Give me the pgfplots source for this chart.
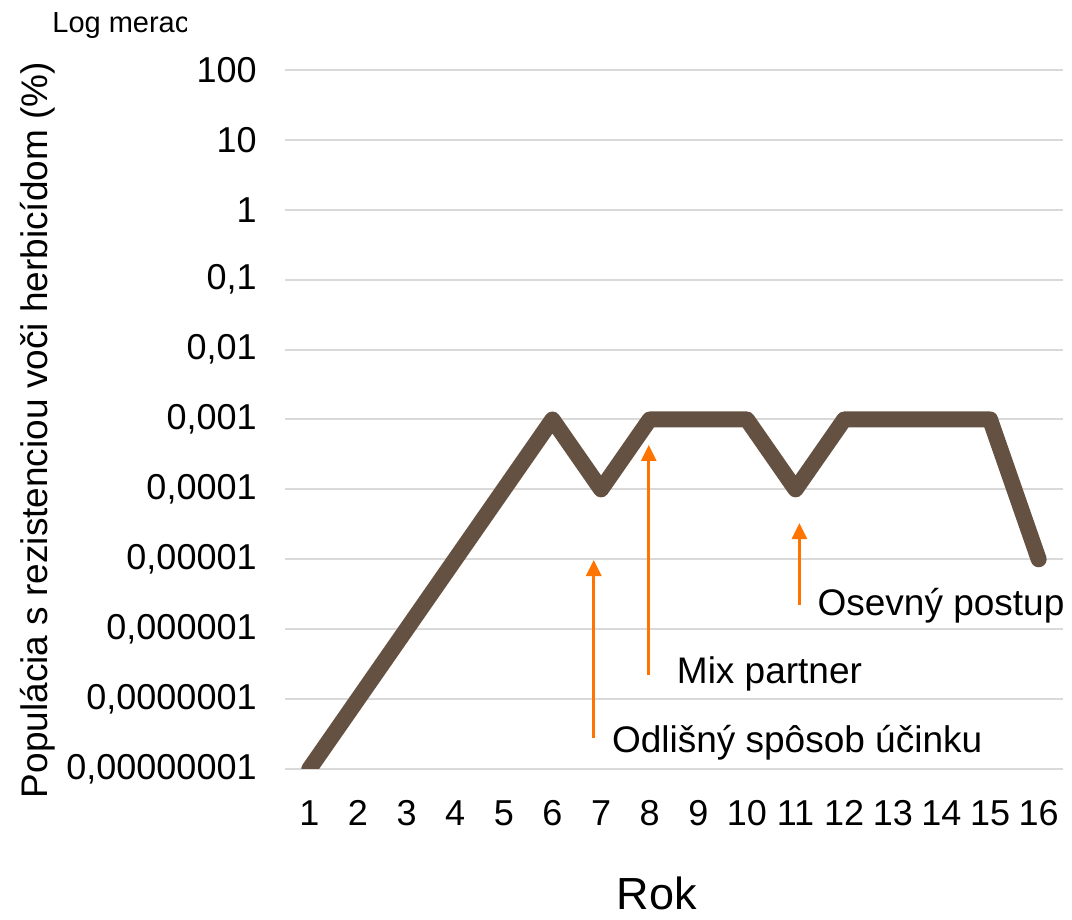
\documentclass[border=0pt]{standalone}
\usepackage{pgfplots}
\pgfplotsset{compat=1.18}
\usepackage{fontspec}
\setmainfont{Liberation Sans}
\definecolor{linebrown}{HTML}{655141}
\definecolor{arroworange}{HTML}{FF7300}
\definecolor{gridgray}{HTML}{D9D9D9}
\usetikzlibrary{arrows.meta}
\begin{document}
\begin{tikzpicture}[x=1pt,y=1pt]
\path[use as bounding box] (0,0) rectangle (536,460);
\begin{axis}[
  at={(142.5pt,75.5pt)}, anchor=south west,
  scale only axis, width=389pt, height=349.5pt,
  ymode=log, log basis y=10,
  xmin=0.5, xmax=16.5, ymin=1e-8, ymax=100,
  xtick={1,...,16},
  ytick={1e-8,1e-7,1e-6,1e-5,1e-4,1e-3,1e-2,1e-1,1,10,100},
  yticklabels={{0,00000001},{0,0000001},{0,000001},{0,00001},{0,0001},{0,001},{0,01},{0,1},1,10,100},
  /pgf/number format/assume math mode=true,
  axis line style={draw=none},
  major tick length=0pt,
  tick style={draw=none},
  ymajorgrids, grid style={gridgray, line width=1pt},
  yticklabel style={font=\fontsize{18}{20}\selectfont, inner sep=0pt, anchor=east, xshift=-14pt},
  xticklabel style={font=\fontsize{18}{20}\selectfont, inner sep=0pt, anchor=north, yshift=-15.5pt},
  clip mode=individual,
]
\addplot[linebrown, line width=8pt, line join=round, line cap=round] coordinates {
(1,1e-8) (2,1e-7) (3,1e-6) (4,1e-5) (5,1e-4) (6,1e-3) (7,1e-4) (8,1e-3)
(9,1e-3) (10,1e-3) (11,1e-4) (12,1e-3) (13,1e-3) (14,1e-3) (15,1e-3) (16,1e-5)};
\draw[arroworange, line width=1.5pt, -{Triangle[width=7.5pt,length=8pt]}] (axis cs:6.85,2.77e-8) -- (axis cs:6.85,9.77e-6);
\draw[arroworange, line width=1.5pt, -{Triangle[width=7.5pt,length=8pt]}] (axis cs:7.98,2.21e-7) -- (axis cs:7.98,4.32e-4);
\draw[arroworange, line width=1.5pt, -{Triangle[width=7.5pt,length=8pt]}] (axis cs:11.08,2.22e-6) -- (axis cs:11.08,3.30e-5);
\node[anchor=base west, inner sep=0pt, font=\fontsize{18.5}{20}\selectfont] at (axis cs:7.218,1.694e-8) {Odlišný spôsob účinku};
\node[anchor=base west, inner sep=0pt, font=\fontsize{18.5}{20}\selectfont] at (axis cs:8.552,1.698e-7) {Mix partner};
\node[anchor=base west, inner sep=0pt, font=\fontsize{18.5}{20}\selectfont] at (axis cs:11.445,1.596e-6) {Osevný postup};
\end{axis}
\node[rotate=90, inner sep=0pt, font=\fontsize{18.5}{20}\selectfont] at (19,245) {Populácia s rezistenciou voči herbicídom (\%)};
\node[anchor=base, inner sep=0pt, font=\fontsize{22.5}{24}\selectfont] at (328.5,5) {Rok};
\begin{scope}
\clip (0,400) rectangle (93,460);
\node[anchor=base west, inner sep=0pt, font=\fontsize{14.5}{16}\selectfont] at (26,443.5) {Log merac};
\end{scope}
\end{tikzpicture}
\end{document}
